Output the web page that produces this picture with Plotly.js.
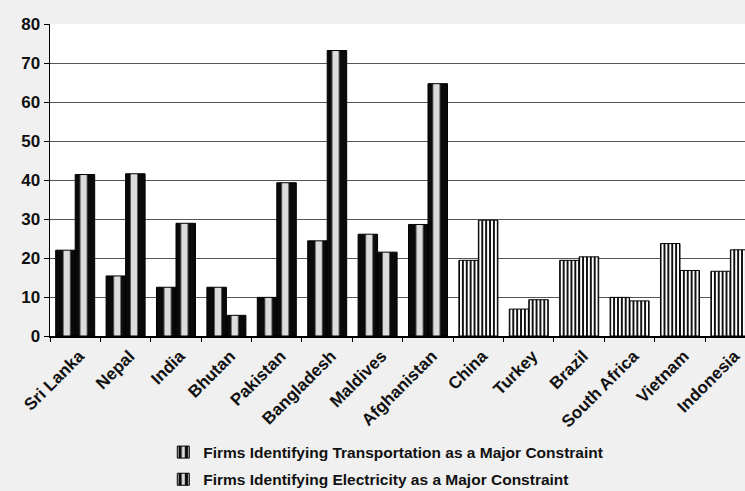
<!DOCTYPE html>
<html>
<head>
<meta charset="utf-8">
<script src="https://cdn.plot.ly/plotly-3.0.1.min.js"></script>
<style>
  html, body { margin: 0; padding: 0; background: #f0f0f0; overflow: hidden; }
  #chart { width: 745px; height: 491px; }
</style>
</head>
<body>
<div id="chart"></div>
<script>
// Share of firms naming each infrastructure area as a major constraint (%)
const countries = ['Sri Lanka', 'Nepal', 'India', 'Bhutan', 'Pakistan', 'Bangladesh', 'Maldives',
  'Afghanistan', 'China', 'Turkey', 'Brazil', 'South Africa', 'Vietnam', 'Indonesia'];
const groups = ['South Asia', 'South Asia', 'South Asia', 'South Asia', 'South Asia', 'South Asia',
  'South Asia', 'South Asia', 'Comparator', 'Comparator', 'Comparator', 'Comparator', 'Comparator', 'Comparator'];
const transportation = [22.0, 15.4, 12.5, 12.5, 9.9, 24.4, 26.1, 28.6, 19.4, 6.9, 19.4, 9.9, 23.7, 16.6];
const electricity = [41.4, 41.6, 28.9, 5.3, 39.3, 73.2, 21.5, 64.7, 29.7, 9.3, 20.3, 9.0, 16.8, 22.1];
const seriesNames = ['Firms Identifying Transportation as a Major Constraint',
  'Firms Identifying Electricity as a Major Constraint'];
const yTicks = [0, 10, 20, 30, 40, 50, 60, 70, 80];

// Page geometry
const W = 745, H = 491;
const margin = { l: 50, r: 0, t: 24, b: 155, pad: 0, autoexpand: false };
const xRange = [-0.5, 13.29];
const catPx = (W - margin.l - margin.r) / (xRange[1] - xRange[0]);

// South Asian bars: dark edges with a pale core; comparators: fine vertical hatching
function patternFor(g) {
  if (g === 'South Asia') {
    return { shape: '|', fg: '#0a0a0a', bg: '#dcdcdc', size: catPx / 3, solidity: 0.6 };
  }
  return { shape: '|', fg: '#111111', bg: '#ffffff', size: catPx / 13, solidity: 0.5 };
}
const pats = groups.map(patternFor);
const pattern = {
  shape: pats.map(p => p.shape),
  fgcolor: pats.map(p => p.fg),
  bgcolor: pats.map(p => p.bg),
  size: pats.map(p => p.size),
  solidity: pats.map(p => p.solidity),
  fgopacity: 1,
  fillmode: 'replace'
};

const font = { family: 'Liberation Sans, Arial, sans-serif', color: '#111', weight: 'bold' };

function barTrace(name, values, grp) {
  return {
    type: 'bar',
    name: name,
    x: countries,
    y: values,
    legendgroup: grp,
    marker: {
      color: '#ffffff',
      pattern: pattern,
      line: { color: '#000', width: 1 }
    },
    hoverinfo: 'x+y+name'
  };
}

const data = [
  barTrace(seriesNames[0], transportation, 'a'),
  barTrace(seriesNames[1], electricity, 'b')
];

const layout = {
  width: W,
  height: H,
  margin: margin,
  paper_bgcolor: '#f0f0f0',
  plot_bgcolor: '#ffffff',
  barmode: 'group',
  bargap: 0.226,
  bargroupgap: 0,
  font: Object.assign({ size: 17 }, font),
  xaxis: {
    type: 'category',
    range: xRange,
    automargin: false,
    tickangle: -45,
    tickson: 'boundaries',
    ticks: 'outside',
    ticklen: 4,
    tickcolor: '#000',
    ticklabelshift: 4,
    ticklabelstandoff: 2,
    showgrid: false,
    showline: true,
    linecolor: '#000',
    linewidth: 1.5,
    tickfont: Object.assign({ size: 17 }, font),
    fixedrange: true
  },
  yaxis: {
    range: [0, 80],
    automargin: false,
    tickvals: yTicks,
    ticks: 'outside',
    ticklen: 5,
    tickcolor: '#000',
    showline: true,
    linecolor: '#000',
    linewidth: 1.5,
    showgrid: true,
    gridcolor: '#555',
    gridwidth: 1,
    zeroline: false,
    tickfont: Object.assign({ size: 17 }, font),
    fixedrange: true
  },
  showlegend: true,
  legend: {
    orientation: 'v',
    x: 0.163,
    xanchor: 'left',
    y: -0.319,
    yanchor: 'top',
    traceorder: 'grouped',
    tracegroupgap: 4,
    bgcolor: 'rgba(0,0,0,0)',
    font: Object.assign({ size: 15.5 }, font)
  }
};

Plotly.newPlot('chart', data, layout, { displayModeBar: false, staticPlot: true });
</script>
</body>
</html>
